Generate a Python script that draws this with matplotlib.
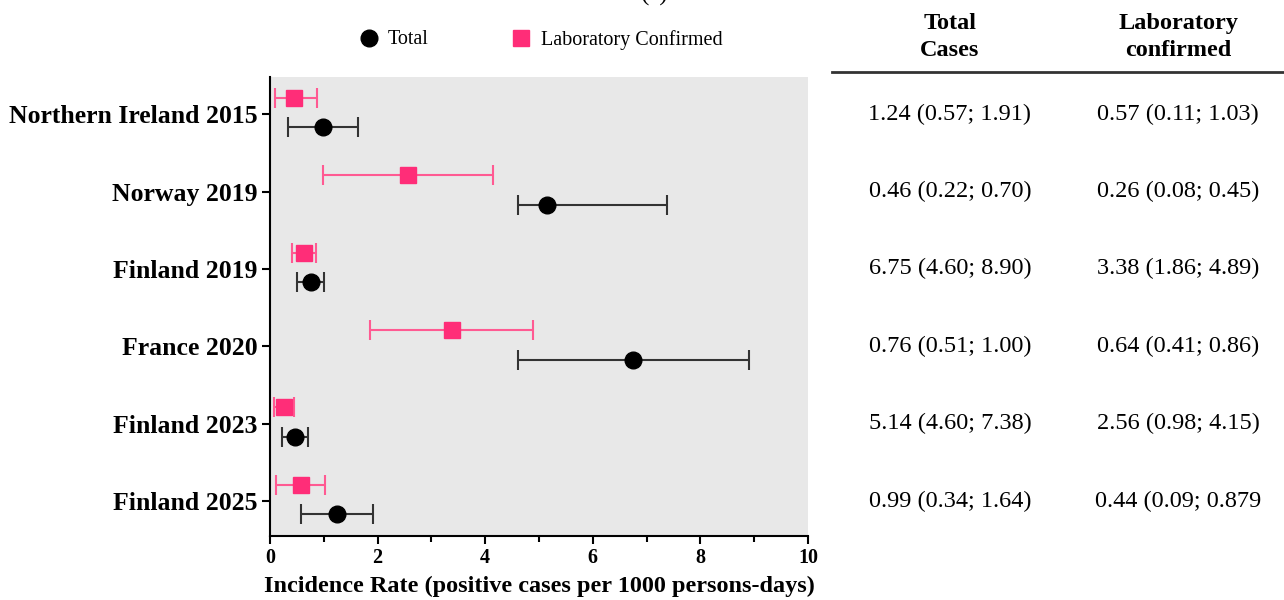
import matplotlib.pyplot as plt
import numpy as np

plt.rcParams['font.family'] = ['Liberation Serif', 'DejaVu Serif']

# Studies, top to bottom
studies = ["Northern Ireland 2015", "Norway 2019", "Finland 2019",
           "France 2020", "Finland 2023", "Finland 2025"]

# Incidence rate per 1000 person-days: estimate, lower CI, upper CI
total_est = [0.99, 5.14, 0.76, 6.75, 0.46, 1.24]
total_lo = [0.34, 4.60, 0.51, 4.60, 0.22, 0.57]
total_hi = [1.64, 7.38, 1.00, 8.90, 0.70, 1.91]

lab_est = [0.44, 2.56, 0.64, 3.38, 0.26, 0.57]
lab_lo = [0.09, 0.98, 0.41, 1.86, 0.08, 0.11]
lab_hi = [0.879, 4.15, 0.86, 4.89, 0.45, 1.03]

# Table column text, top to bottom
table_total = ["1.24 (0.57; 1.91)", "0.46 (0.22; 0.70)", "6.75 (4.60; 8.90)",
               "0.76 (0.51; 1.00)", "5.14 (4.60; 7.38)", "0.99 (0.34; 1.64)"]
table_lab = ["0.57 (0.11; 1.03)", "0.26 (0.08; 0.45)", "3.38 (1.86; 4.89)",
             "0.64 (0.41; 0.86)", "2.56 (0.98; 4.15)", "0.44 (0.09; 0.879"]

pink = '#ff2d78'
pink_line = '#ff5a92'
dark = '#333333'

fig = plt.figure(figsize=(12.84, 6), dpi=100)
ax = fig.add_axes([0.2103, 0.1067, 0.419, 0.765])
ax.set_facecolor('#e8e8e8')

n = len(studies)
ypos = np.arange(n)[::-1].astype(float)

total_est = np.array(total_est)
lab_est = np.array(lab_est)
terr = [total_est - np.array(total_lo), np.array(total_hi) - total_est]
lerr = [lab_est - np.array(lab_lo), np.array(lab_hi) - lab_est]

ax.errorbar(total_est, ypos - 0.17, xerr=terr, fmt='o', color='black',
            ecolor=dark, elinewidth=1.5, capsize=7, capthick=1.5,
            markersize=12, zorder=3)
ax.errorbar(lab_est, ypos + 0.21, xerr=lerr, fmt='s', color=pink,
            ecolor=pink_line, elinewidth=1.5, capsize=7, capthick=1.5,
            markersize=12, zorder=3)

ax.set_xlim(0, 10)
ax.set_ylim(-0.45, n - 1 + 0.48)
ax.set_yticks(ypos)
ax.set_yticklabels(studies, fontsize=18.5, fontweight='bold')
ax.set_xticks(np.arange(0, 11, 2))
ax.set_xticks(np.arange(1, 10, 2), minor=True)
ax.tick_params(axis='x', labelsize=14.5, width=1.5, length=6, pad=3)
ax.tick_params(axis='x', which='minor', width=1.5, length=4)
ax.tick_params(axis='y', width=1.5, length=6, pad=3)
for lbl in ax.get_xticklabels():
    lbl.set_fontweight('bold')
ax.set_xlabel("Incidence Rate (positive cases per 1000 persons-days)",
              fontsize=17.5, fontweight='bold', labelpad=5)

for s in ['top', 'right']:
    ax.spines[s].set_visible(False)
for s in ['left', 'bottom']:
    ax.spines[s].set_linewidth(1.5)

# Legend drawn above the axes
fig.lines.append(plt.Line2D([369 / 1284], [1 - 38 / 600], marker='o',
                            color='black', markersize=12, linestyle='none',
                            transform=fig.transFigure))
fig.lines.append(plt.Line2D([521 / 1284], [1 - 38 / 600], marker='s',
                            color=pink, markersize=12, linestyle='none',
                            transform=fig.transFigure))
fig.text(388 / 1284, 1 - 40 / 600, "Total", fontsize=14.5, va='center')
fig.text(541 / 1284, 1 - 40 / 600, "Laboratory Confirmed", fontsize=14.5,
         va='center')

# Panel label, partly above the top edge
fig.text(655 / 1284, 1 - (-6) / 600, "(a)", fontsize=18, ha='center',
         va='center')

# Summary table on the right
col1_x, col2_x = 950 / 1284, 1178 / 1284
fig.text(col1_x, 1 - 37 / 600, "Total\nCases", fontsize=17.5,
         fontweight='bold', ha='center', va='center', linespacing=1.35)
fig.text(col2_x, 1 - 37 / 600, "Laboratory\nconfirmed", fontsize=17.5,
         fontweight='bold', ha='center', va='center', linespacing=1.35)
fig.lines.append(plt.Line2D([832 / 1284, 1.0], [1 - 72 / 600, 1 - 72 / 600],
                            color='#333333', linewidth=2,
                            transform=fig.transFigure))

for y, t1, t2 in zip(ypos, table_total, table_lab):
    yf = fig.transFigure.inverted().transform(ax.transData.transform((0, y)))[1]
    fig.text(col1_x, yf, t1, fontsize=17.5, ha='center', va='center')
    fig.text(col2_x, yf, t2, fontsize=17.5, ha='center', va='center')

fig.savefig('out.png', dpi=100)
